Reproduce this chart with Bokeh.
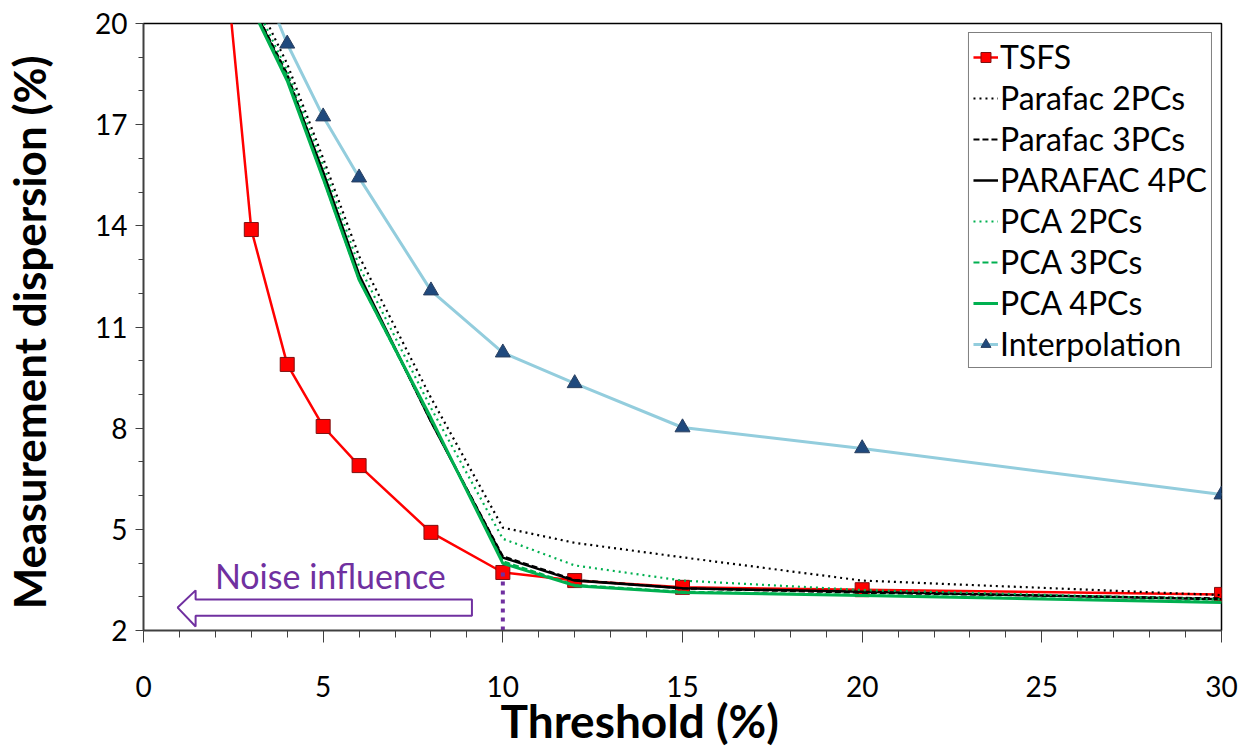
from bokeh.plotting import figure
from bokeh.models import FixedTicker, Legend, LegendItem, Range1d, Label, Title
from bokeh.embed import file_html
from bokeh.resources import INLINE

# ---------------- data ----------------
threshold = [3, 4, 5, 6, 8, 10, 12, 15, 20, 30]
tsfs_threshold = [2, 3, 4, 5, 6, 8, 10, 12, 15, 20, 30]
tsfs = [25.0, 13.89, 9.89, 8.05, 6.89, 4.91, 3.72, 3.48, 3.28, 3.21, 3.07]
parafac2 = [21.0, 18.8, 16.0, 13.1, 8.9, 5.05, 4.6, 4.17, 3.48, 3.05]
parafac3 = [20.6, 18.5, 15.5, 12.5, 8.2, 4.2, 3.5, 3.25, 3.12, 2.95]
parafac4 = [20.6, 18.4, 15.6, 12.55, 8.2, 4.16, 3.48, 3.25, 3.15, 2.93]
pca2 = [20.8, 18.6, 15.8, 12.8, 8.6, 4.72, 3.93, 3.48, 3.2, 2.92]
pca3 = [20.5, 18.4, 15.4, 12.4, 8.25, 4.05, 3.35, 3.15, 3.05, 2.85]
pca4 = [20.5, 18.3, 15.4, 12.4, 8.3, 3.99, 3.33, 3.13, 3.04, 2.83]
interp = [22.0, 19.4, 17.24, 15.43, 12.08, 10.24, 9.33, 8.02, 7.40, 6.03]

x_ticks = [0, 5, 10, 15, 20, 25, 30]
y_ticks = [2, 5, 8, 11, 14, 17, 20]

# annotation geometry (data units)
noise_x = [0.95, 1.45, 1.45, 9.14, 9.14, 1.45, 1.45]
noise_y = [2.68, 3.19, 2.92, 2.92, 2.44, 2.44, 2.12]
noise_label_x, noise_label_y = 5.2, 3.63
mark_x, mark_y0, mark_y1 = 10, 2.0, 3.72

FONT = "Lato"
PURPLE = "#7030A0"
GREEN = "#00B050"
RED = "#FF0000"
LBLUE = "#93CDDD"
DBLUE = "#1F497D"

W, H = 1250, 752
p = figure(width=W, height=H, output_backend="svg", toolbar_location=None,
           x_range=Range1d(0, 30), y_range=Range1d(2, 20),
           min_border_left=143, min_border_right=W - 1221, min_border_top=23,
           min_border_bottom=H - 630)
p.grid.visible = False
p.outline_line_color = "black"
p.outline_line_width = 1.5
p.background_fill_color = "white"

# axes
p.xaxis.ticker = FixedTicker(ticks=x_ticks, minor_ticks=list(range(0, 31)))
p.yaxis.ticker = FixedTicker(ticks=y_ticks, minor_ticks=list(range(2, 21)))
for ax in (p.xaxis[0], p.yaxis[0]):
    ax.axis_line_color = "#404040"
    ax.axis_line_width = 1.5
    ax.major_tick_line_color = "#404040"
    ax.minor_tick_line_color = "#404040"
    ax.major_tick_in = 0
    ax.minor_tick_in = 0
    ax.major_label_text_font = FONT
    ax.major_label_text_font_size = "28px"
    ax.major_label_text_color = "black"
    ax.axis_label_text_font = FONT
    ax.axis_label_text_font_style = "bold"
    ax.axis_label_text_color = "black"
p.xaxis.major_tick_out = 12
p.xaxis.minor_tick_out = 7
p.yaxis.major_tick_out = 8
p.yaxis.minor_tick_out = 5
p.xaxis.major_label_standoff = 33
p.yaxis.major_label_standoff = 8
p.yaxis.axis_label = "Measurement dispersion  (%)"
p.yaxis.axis_label_text_font_size = "44px"
p.yaxis.axis_label_standoff = 37

# x-axis title (placed off-centre as in the original)
xt = Title(text="Threshold (%)", align="left", offset=357, standoff=-17,
           text_font=FONT, text_font_size="46px", text_font_style="bold",
           text_color="black")
p.add_layout(xt, "below")

# series
r_tsfs_l = p.line(tsfs_threshold, tsfs, line_color=RED, line_width=2.5)
r_tsfs_m = p.scatter(tsfs_threshold, tsfs, marker="square", size=14,
                     fill_color=RED, line_color="#7F1010", line_width=1)
r_p2 = p.line(threshold, parafac2, line_color="black", line_width=2.2, line_dash="2 4")
r_p3 = p.line(threshold, parafac3, line_color="black", line_width=2.2, line_dash="6 3")
r_p4 = p.line(threshold, parafac4, line_color="black", line_width=2.5)
r_c2 = p.line(threshold, pca2, line_color=GREEN, line_width=2.2, line_dash="2 4")
r_c3 = p.line(threshold, pca3, line_color=GREEN, line_width=2.2, line_dash="6 3")
r_c4 = p.line(threshold, pca4, line_color=GREEN, line_width=3)
r_in_l = p.line(threshold, interp, line_color=LBLUE, line_width=3)
r_in_m = p.scatter(threshold, interp, marker="triangle", size=15,
                   fill_color=DBLUE, line_color="#2A3F5F", line_width=1)

# noise annotation
p.patch(noise_x, noise_y, fill_color="white", line_color=PURPLE, line_width=2)
p.line([mark_x, mark_x], [mark_y0, mark_y1], line_color=PURPLE, line_width=4,
       line_dash="4 5")
p.add_layout(Label(x=noise_label_x, y=noise_label_y, text="Noise influence",
                   text_font=FONT, text_font_size="34px", text_color=PURPLE,
                   text_align="center", text_baseline="middle"))

legend = Legend(items=[
    LegendItem(label="TSFS", renderers=[r_tsfs_l, r_tsfs_m]),
    LegendItem(label="Parafac 2PCs", renderers=[r_p2]),
    LegendItem(label="Parafac 3PCs", renderers=[r_p3]),
    LegendItem(label="PARAFAC 4PC", renderers=[r_p4]),
    LegendItem(label="PCA 2PCs", renderers=[r_c2]),
    LegendItem(label="PCA 3PCs", renderers=[r_c3]),
    LegendItem(label="PCA 4PCs", renderers=[r_c4]),
    LegendItem(label="Interpolation", renderers=[r_in_l, r_in_m]),
], location="top_right")
legend.margin = 9
legend.padding = 4
legend.spacing = 2
legend.glyph_width = 25
legend.glyph_height = 30
legend.label_standoff = 2
legend.label_text_font = FONT
legend.label_text_font_size = "32px"
legend.label_text_color = "black"
legend.border_line_color = "black"
legend.border_line_width = 1
legend.background_fill_alpha = 1
p.add_layout(legend)

open("out.html", "w").write(file_html(p, INLINE))
